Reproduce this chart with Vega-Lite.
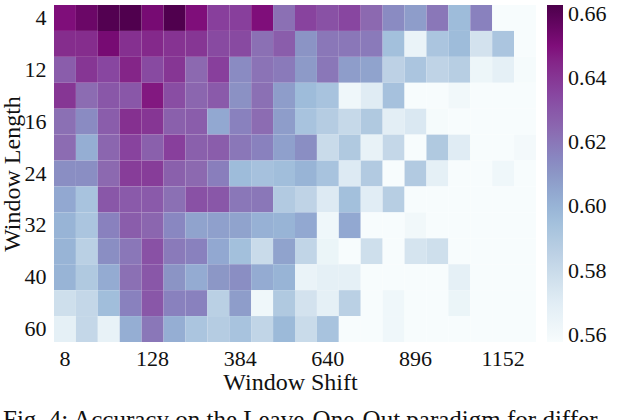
{"$schema":"https://vega.github.io/schema/vega-lite/v6.json","width":482,"height":337,"autosize":{"type":"none"},"padding":{"left":54,"top":5,"right":104,"bottom":78},"background":"white","config":{"view":{"stroke":null},"font":"Liberation Serif"},"title":{"text":"Fig. 4: Accuracy on the Leave-One-Out paradigm for differ-","orient":"bottom","anchor":"start","frame":"group","dx":-51,"offset":14,"fontSize":25,"font":"Liberation Serif","fontWeight":"normal","color":"#111"},"data":{"values":[
{"shift":8,"length":4,"accuracy":0.65},{"shift":32,"length":4,"accuracy":0.655},{"shift":64,"length":4,"accuracy":0.661},{"shift":96,"length":4,"accuracy":0.662},{"shift":128,"length":4,"accuracy":0.652},{"shift":192,"length":4,"accuracy":0.662},{"shift":256,"length":4,"accuracy":0.65},{"shift":320,"length":4,"accuracy":0.637},{"shift":384,"length":4,"accuracy":0.637},{"shift":448,"length":4,"accuracy":0.65},{"shift":512,"length":4,"accuracy":0.622},{"shift":576,"length":4,"accuracy":0.636},{"shift":640,"length":4,"accuracy":0.632},{"shift":704,"length":4,"accuracy":0.635},{"shift":768,"length":4,"accuracy":0.624},{"shift":832,"length":4,"accuracy":0.614},{"shift":896,"length":4,"accuracy":0.608},{"shift":960,"length":4,"accuracy":0.62},{"shift":1024,"length":4,"accuracy":0.597},{"shift":1088,"length":4,"accuracy":0.617},{"shift":1152,"length":4,"accuracy":0.557},{"shift":1216,"length":4,"accuracy":0.557},
{"shift":8,"length":8,"accuracy":0.643},{"shift":32,"length":8,"accuracy":0.643},{"shift":64,"length":8,"accuracy":0.652},{"shift":96,"length":8,"accuracy":0.642},{"shift":128,"length":8,"accuracy":0.644},{"shift":192,"length":8,"accuracy":0.641},{"shift":256,"length":8,"accuracy":0.64},{"shift":320,"length":8,"accuracy":0.634},{"shift":384,"length":8,"accuracy":0.634},{"shift":448,"length":8,"accuracy":0.622},{"shift":512,"length":8,"accuracy":0.628},{"shift":576,"length":8,"accuracy":0.611},{"shift":640,"length":8,"accuracy":0.62},{"shift":704,"length":8,"accuracy":0.62},{"shift":768,"length":8,"accuracy":0.619},{"shift":832,"length":8,"accuracy":0.595},{"shift":896,"length":8,"accuracy":0.565},{"shift":960,"length":8,"accuracy":0.592},{"shift":1024,"length":8,"accuracy":0.597},{"shift":1088,"length":8,"accuracy":0.576},{"shift":1152,"length":8,"accuracy":0.592},{"shift":1216,"length":8,"accuracy":0.557},
{"shift":8,"length":12,"accuracy":0.628},{"shift":32,"length":12,"accuracy":0.64},{"shift":64,"length":12,"accuracy":0.635},{"shift":96,"length":12,"accuracy":0.645},{"shift":128,"length":12,"accuracy":0.634},{"shift":192,"length":12,"accuracy":0.64},{"shift":256,"length":12,"accuracy":0.624},{"shift":320,"length":12,"accuracy":0.637},{"shift":384,"length":12,"accuracy":0.614},{"shift":448,"length":12,"accuracy":0.621},{"shift":512,"length":12,"accuracy":0.619},{"shift":576,"length":12,"accuracy":0.609},{"shift":640,"length":12,"accuracy":0.62},{"shift":704,"length":12,"accuracy":0.608},{"shift":768,"length":12,"accuracy":0.606},{"shift":832,"length":12,"accuracy":0.585},{"shift":896,"length":12,"accuracy":0.592},{"shift":960,"length":12,"accuracy":0.584},{"shift":1024,"length":12,"accuracy":0.587},{"shift":1088,"length":12,"accuracy":0.563},{"shift":1152,"length":12,"accuracy":0.568},{"shift":1216,"length":12,"accuracy":0.559},
{"shift":8,"length":14,"accuracy":0.64},{"shift":32,"length":14,"accuracy":0.623},{"shift":64,"length":14,"accuracy":0.63},{"shift":96,"length":14,"accuracy":0.63},{"shift":128,"length":14,"accuracy":0.648},{"shift":192,"length":14,"accuracy":0.633},{"shift":256,"length":14,"accuracy":0.625},{"shift":320,"length":14,"accuracy":0.629},{"shift":384,"length":14,"accuracy":0.612},{"shift":448,"length":14,"accuracy":0.622},{"shift":512,"length":14,"accuracy":0.608},{"shift":576,"length":14,"accuracy":0.597},{"shift":640,"length":14,"accuracy":0.593},{"shift":704,"length":14,"accuracy":0.562},{"shift":768,"length":14,"accuracy":0.571},{"shift":832,"length":14,"accuracy":0.594},{"shift":896,"length":14,"accuracy":0.558},{"shift":960,"length":14,"accuracy":0.558},{"shift":1024,"length":14,"accuracy":0.561},{"shift":1088,"length":14,"accuracy":0.557},{"shift":1152,"length":14,"accuracy":0.557},{"shift":1216,"length":14,"accuracy":0.557},
{"shift":8,"length":16,"accuracy":0.622},{"shift":32,"length":16,"accuracy":0.614},{"shift":64,"length":16,"accuracy":0.628},{"shift":96,"length":16,"accuracy":0.642},{"shift":128,"length":16,"accuracy":0.64},{"shift":192,"length":16,"accuracy":0.627},{"shift":256,"length":16,"accuracy":0.628},{"shift":320,"length":16,"accuracy":0.604},{"shift":384,"length":16,"accuracy":0.617},{"shift":448,"length":16,"accuracy":0.623},{"shift":512,"length":16,"accuracy":0.608},{"shift":576,"length":16,"accuracy":0.593},{"shift":640,"length":16,"accuracy":0.588},{"shift":704,"length":16,"accuracy":0.581},{"shift":768,"length":16,"accuracy":0.59},{"shift":832,"length":16,"accuracy":0.569},{"shift":896,"length":16,"accuracy":0.573},{"shift":960,"length":16,"accuracy":0.559},{"shift":1024,"length":16,"accuracy":0.557},{"shift":1088,"length":16,"accuracy":0.557},{"shift":1152,"length":16,"accuracy":0.557},{"shift":1216,"length":16,"accuracy":0.557},
{"shift":8,"length":20,"accuracy":0.623},{"shift":32,"length":20,"accuracy":0.602},{"shift":64,"length":20,"accuracy":0.625},{"shift":96,"length":20,"accuracy":0.636},{"shift":128,"length":20,"accuracy":0.627},{"shift":192,"length":20,"accuracy":0.637},{"shift":256,"length":20,"accuracy":0.627},{"shift":320,"length":20,"accuracy":0.628},{"shift":384,"length":20,"accuracy":0.62},{"shift":448,"length":20,"accuracy":0.617},{"shift":512,"length":20,"accuracy":0.607},{"shift":576,"length":20,"accuracy":0.613},{"shift":640,"length":20,"accuracy":0.58},{"shift":704,"length":20,"accuracy":0.59},{"shift":768,"length":20,"accuracy":0.566},{"shift":832,"length":20,"accuracy":0.582},{"shift":896,"length":20,"accuracy":0.557},{"shift":960,"length":20,"accuracy":0.59},{"shift":1024,"length":20,"accuracy":0.571},{"shift":1088,"length":20,"accuracy":0.557},{"shift":1152,"length":20,"accuracy":0.557},{"shift":1216,"length":20,"accuracy":0.56},
{"shift":8,"length":24,"accuracy":0.613},{"shift":32,"length":24,"accuracy":0.613},{"shift":64,"length":24,"accuracy":0.624},{"shift":96,"length":24,"accuracy":0.638},{"shift":128,"length":24,"accuracy":0.638},{"shift":192,"length":24,"accuracy":0.627},{"shift":256,"length":24,"accuracy":0.624},{"shift":320,"length":24,"accuracy":0.618},{"shift":384,"length":24,"accuracy":0.597},{"shift":448,"length":24,"accuracy":0.594},{"shift":512,"length":24,"accuracy":0.596},{"shift":576,"length":24,"accuracy":0.6},{"shift":640,"length":24,"accuracy":0.593},{"shift":704,"length":24,"accuracy":0.572},{"shift":768,"length":24,"accuracy":0.589},{"shift":832,"length":24,"accuracy":0.558},{"shift":896,"length":24,"accuracy":0.589},{"shift":960,"length":24,"accuracy":0.568},{"shift":1024,"length":24,"accuracy":0.557},{"shift":1088,"length":24,"accuracy":0.557},{"shift":1152,"length":24,"accuracy":0.562},{"shift":1216,"length":24,"accuracy":0.557},
{"shift":8,"length":28,"accuracy":0.604},{"shift":32,"length":28,"accuracy":0.593},{"shift":64,"length":28,"accuracy":0.63},{"shift":96,"length":28,"accuracy":0.629},{"shift":128,"length":28,"accuracy":0.629},{"shift":192,"length":28,"accuracy":0.622},{"shift":256,"length":28,"accuracy":0.632},{"shift":320,"length":28,"accuracy":0.63},{"shift":384,"length":28,"accuracy":0.62},{"shift":448,"length":28,"accuracy":0.62},{"shift":512,"length":28,"accuracy":0.589},{"shift":576,"length":28,"accuracy":0.584},{"shift":640,"length":28,"accuracy":0.572},{"shift":704,"length":28,"accuracy":0.595},{"shift":768,"length":28,"accuracy":0.57},{"shift":832,"length":28,"accuracy":0.587},{"shift":896,"length":28,"accuracy":0.557},{"shift":960,"length":28,"accuracy":0.557},{"shift":1024,"length":28,"accuracy":0.557},{"shift":1088,"length":28,"accuracy":0.557},{"shift":1152,"length":28,"accuracy":0.557},{"shift":1216,"length":28,"accuracy":0.557},
{"shift":8,"length":32,"accuracy":0.6},{"shift":32,"length":32,"accuracy":0.592},{"shift":64,"length":32,"accuracy":0.617},{"shift":96,"length":32,"accuracy":0.628},{"shift":128,"length":32,"accuracy":0.625},{"shift":192,"length":32,"accuracy":0.615},{"shift":256,"length":32,"accuracy":0.606},{"shift":320,"length":32,"accuracy":0.607},{"shift":384,"length":32,"accuracy":0.606},{"shift":448,"length":32,"accuracy":0.601},{"shift":512,"length":32,"accuracy":0.6},{"shift":576,"length":32,"accuracy":0.604},{"shift":640,"length":32,"accuracy":0.562},{"shift":704,"length":32,"accuracy":0.604},{"shift":768,"length":32,"accuracy":0.557},{"shift":832,"length":32,"accuracy":0.557},{"shift":896,"length":32,"accuracy":0.561},{"shift":960,"length":32,"accuracy":0.557},{"shift":1024,"length":32,"accuracy":0.557},{"shift":1088,"length":32,"accuracy":0.557},{"shift":1152,"length":32,"accuracy":0.557},{"shift":1216,"length":32,"accuracy":0.557},
{"shift":8,"length":36,"accuracy":0.6},{"shift":32,"length":36,"accuracy":0.586},{"shift":64,"length":36,"accuracy":0.613},{"shift":96,"length":36,"accuracy":0.62},{"shift":128,"length":36,"accuracy":0.632},{"shift":192,"length":36,"accuracy":0.619},{"shift":256,"length":36,"accuracy":0.617},{"shift":320,"length":36,"accuracy":0.604},{"shift":384,"length":36,"accuracy":0.595},{"shift":448,"length":36,"accuracy":0.58},{"shift":512,"length":36,"accuracy":0.606},{"shift":576,"length":36,"accuracy":0.583},{"shift":640,"length":36,"accuracy":0.564},{"shift":704,"length":36,"accuracy":0.557},{"shift":768,"length":36,"accuracy":0.578},{"shift":832,"length":36,"accuracy":0.557},{"shift":896,"length":36,"accuracy":0.575},{"shift":960,"length":36,"accuracy":0.578},{"shift":1024,"length":36,"accuracy":0.557},{"shift":1088,"length":36,"accuracy":0.557},{"shift":1152,"length":36,"accuracy":0.557},{"shift":1216,"length":36,"accuracy":0.557},
{"shift":8,"length":40,"accuracy":0.6},{"shift":32,"length":40,"accuracy":0.59},{"shift":64,"length":40,"accuracy":0.603},{"shift":96,"length":40,"accuracy":0.622},{"shift":128,"length":40,"accuracy":0.63},{"shift":192,"length":40,"accuracy":0.611},{"shift":256,"length":40,"accuracy":0.603},{"shift":320,"length":40,"accuracy":0.61},{"shift":384,"length":40,"accuracy":0.613},{"shift":448,"length":40,"accuracy":0.603},{"shift":512,"length":40,"accuracy":0.6},{"shift":576,"length":40,"accuracy":0.565},{"shift":640,"length":40,"accuracy":0.568},{"shift":704,"length":40,"accuracy":0.568},{"shift":768,"length":40,"accuracy":0.557},{"shift":832,"length":40,"accuracy":0.557},{"shift":896,"length":40,"accuracy":0.557},{"shift":960,"length":40,"accuracy":0.557},{"shift":1024,"length":40,"accuracy":0.568},{"shift":1088,"length":40,"accuracy":0.557},{"shift":1152,"length":40,"accuracy":0.557},{"shift":1216,"length":40,"accuracy":0.557},
{"shift":8,"length":50,"accuracy":0.578},{"shift":32,"length":50,"accuracy":0.582},{"shift":64,"length":50,"accuracy":0.596},{"shift":96,"length":50,"accuracy":0.617},{"shift":128,"length":50,"accuracy":0.63},{"shift":192,"length":50,"accuracy":0.617},{"shift":256,"length":50,"accuracy":0.617},{"shift":320,"length":50,"accuracy":0.586},{"shift":384,"length":50,"accuracy":0.608},{"shift":448,"length":50,"accuracy":0.562},{"shift":512,"length":50,"accuracy":0.59},{"shift":576,"length":50,"accuracy":0.576},{"shift":640,"length":50,"accuracy":0.568},{"shift":704,"length":50,"accuracy":0.586},{"shift":768,"length":50,"accuracy":0.557},{"shift":832,"length":50,"accuracy":0.562},{"shift":896,"length":50,"accuracy":0.557},{"shift":960,"length":50,"accuracy":0.557},{"shift":1024,"length":50,"accuracy":0.564},{"shift":1088,"length":50,"accuracy":0.557},{"shift":1152,"length":50,"accuracy":0.557},{"shift":1216,"length":50,"accuracy":0.557},
{"shift":8,"length":60,"accuracy":0.568},{"shift":32,"length":60,"accuracy":0.582},{"shift":64,"length":60,"accuracy":0.566},{"shift":96,"length":60,"accuracy":0.602},{"shift":128,"length":60,"accuracy":0.62},{"shift":192,"length":60,"accuracy":0.602},{"shift":256,"length":60,"accuracy":0.592},{"shift":320,"length":60,"accuracy":0.588},{"shift":384,"length":60,"accuracy":0.593},{"shift":448,"length":60,"accuracy":0.583},{"shift":512,"length":60,"accuracy":0.598},{"shift":576,"length":60,"accuracy":0.58},{"shift":640,"length":60,"accuracy":0.593},{"shift":704,"length":60,"accuracy":0.557},{"shift":768,"length":60,"accuracy":0.557},{"shift":832,"length":60,"accuracy":0.562},{"shift":896,"length":60,"accuracy":0.557},{"shift":960,"length":60,"accuracy":0.557},{"shift":1024,"length":60,"accuracy":0.557},{"shift":1088,"length":60,"accuracy":0.557},{"shift":1152,"length":60,"accuracy":0.557},{"shift":1216,"length":60,"accuracy":0.557}
]},"mark":{"type":"rect"},"encoding":{"x":{"field":"shift","type":"ordinal","title":"Window Shift","axis":{"values":[8,128,384,640,896,1152],"labelAngle":0,"ticks":false,"domain":false,"labelFontSize":22,"labelFont":"Liberation Serif","labelColor":"#111","labelPadding":6,"titleFont":"Liberation Serif","titleFontSize":24,"titleFontWeight":"normal","titleColor":"#111","titlePadding":1,"titleX":236}},"y":{"field":"length","type":"ordinal","title":"Window Length","axis":{"values":[4,12,16,24,32,40,60],"ticks":false,"domain":false,"labelFontSize":22,"labelFont":"Liberation Serif","labelColor":"#111","labelPadding":8,"titleFont":"Liberation Serif","titleFontSize":24,"titleFontWeight":"normal","titleColor":"#111","titlePadding":0}},"color":{"field":"accuracy","type":"quantitative","scale":{"range":["#f7fcfd","#e0ecf4","#bfd3e6","#9ebcda","#8c96c6","#8c6bb1","#88419d","#810f7c","#4d004b"],"domain":[0.5578,0.6627],"clamp":true},"legend":{"title":null,"orient":"none","legendX":493,"legendY":0,"gradientLength":337,"gradientThickness":16,"values":[0.56,0.58,0.6,0.62,0.64,0.66],"format":".2f","labelFontSize":22,"labelFont":"Liberation Serif","labelColor":"#111","labelOffset":5,"gradientStrokeWidth":0}}}}
